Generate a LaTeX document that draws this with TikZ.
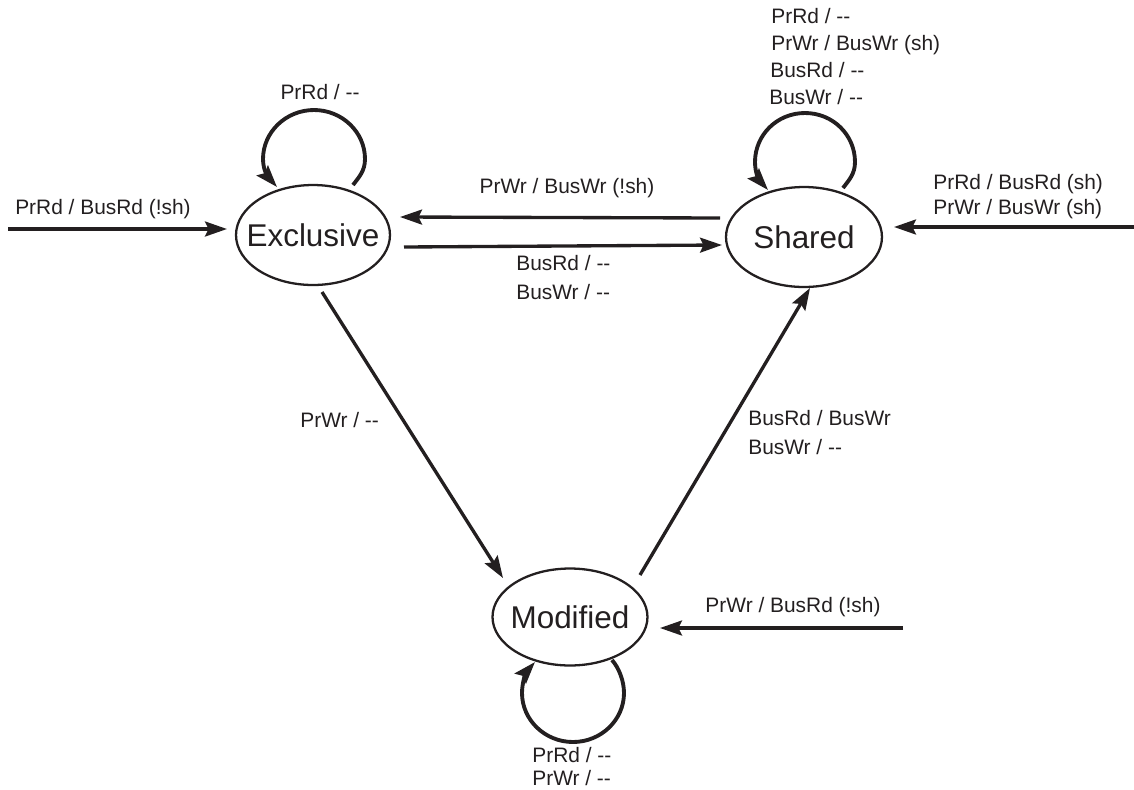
\documentclass[tikz,border=0pt]{standalone}
\usepackage{fontspec}
\setmainfont{Liberation Sans}
\usetikzlibrary{shapes.geometric,arrows.meta,calc}
\definecolor{ink}{HTML}{231F20}
\newcommand\twodash{-{}-}
\begin{document}
\begin{tikzpicture}[x=0.02cm,y=-0.02cm,
  state/.style={ellipse,draw=ink,line width=1.3pt,inner sep=0pt},
  statetext/.style={inner sep=0pt,text=ink,font=\fontsize{17.9pt}{20pt}\selectfont},
  lbl/.style={inner sep=0pt,text=ink,font=\fontsize{11.9pt}{14pt}\selectfont,text height=8.5pt,text depth=0pt},
  arr/.style={draw=ink,line width=1.9pt,-{Stealth[length=12.5pt,width=8.5pt,inset=2pt]}},
  loopy/.style={arr,line width=2.2pt}]
\useasboundingbox (0,0) rectangle (1134,789);

% states
\node[state, minimum width=3.08cm, minimum height=2cm, label={[statetext]center:Exclusive}] (ex) at (313,235) {};
\node[state, minimum width=3.12cm, minimum height=2cm, label={[statetext]center:Shared}] (sh) at (804,237) {};
\node[state, minimum width=3.1cm, minimum height=1.94cm, label={[statetext]center:Modified}] (mo) at (570,617) {};

% free ends
\coordinate (inL) at (8,229);
\coordinate (inR) at (1134,227);
\coordinate (inM) at (903,628);

% straight transitions
\draw[arr] (inL) -- ($(ex)+(-86,-6)$);
\draw[arr] (inR) -- ($(sh)+(90,-10)$);
\draw[arr] (inM) -- ($(mo)+(90,11)$);
\draw[arr] ($(sh)+(-84,-19)$) -- ($(ex)+(87,-18)$);
\draw[arr] ($(ex)+(91,12)$) -- ($(sh)+(-82,8)$);
\draw[arr] ($(ex)+(9,57)$) -- ($(mo)+(-67,-39)$);
\draw[arr] ($(mo)+(70,-42)$) -- ($(sh)+(6,51)$);

% self loops (coordinates relative to the state's centre)
\begin{scope}[shift={(ex)}]
  \draw[loopy] (40,-50) .. controls +(6,-8) and +(0,12) .. (52,-76)
    .. controls +(0,-27) and +(28,0) .. (1,-125)
    .. controls +(-28,0) and +(0,-27) .. (-50,-76)
    .. controls +(0,12) and +(-8,-9) .. (-36,-48);
\end{scope}
\begin{scope}[shift={(sh)}]
  \draw[loopy] (39,-49) .. controls +(6,-8) and +(0,12) .. (51,-75)
    .. controls +(0,-27) and +(28,0) .. (1,-124)
    .. controls +(-28,0) and +(0,-27) .. (-49,-75)
    .. controls +(0,12) and +(-8,-9) .. (-36,-47);
\end{scope}
\begin{scope}[shift={(mo)}]
  \draw[loopy] (42,43) .. controls +(7,8) and +(0,-12) .. (54,76)
    .. controls +(0,27) and +(28,0) .. (3,125)
    .. controls +(-28,0) and +(0,27) .. (-48,76)
    .. controls +(0,-12) and +(-8,9) .. (-35,45);
\end{scope}

% labels
\node[lbl] (tInL) at (103,207) {PrRd / BusRd (!sh)};
\node[lbl] (tExLoop) at (320,92) {PrRd / \twodash};
\node[lbl,anchor=west] (tSh1) at (771,16) {PrRd / \twodash};
\node[lbl,anchor=west] (tSh2) at (771,43) {PrWr / BusWr (sh)};
\node[lbl,anchor=west] (tSh3) at (770,70) {BusRd / \twodash};
\node[lbl,anchor=west] (tSh4) at (769,97) {BusWr / \twodash};
\node[lbl] (tShEx) at (567,186) {PrWr / BusWr (!sh)};
\node[lbl,anchor=west] (tExSh1) at (516,263) {BusRd / \twodash};
\node[lbl,anchor=west] (tExSh2) at (516,292) {BusWr / \twodash};
\node[lbl,anchor=west] (tInR1) at (933,182) {PrRd / BusRd (sh)};
\node[lbl,anchor=west] (tInR2) at (933,207) {PrWr / BusWr (sh)};
\node[lbl,anchor=west] (tExMo) at (300,420) {PrWr / \twodash};
\node[lbl,anchor=west] (tMoSh1) at (748,418) {BusRd / BusWr};
\node[lbl,anchor=west] (tMoSh2) at (748,447) {BusWr / \twodash};
\node[lbl] (tInM) at (793,605) {PrWr / BusRd (!sh)};
\node[lbl,anchor=west] (tMo1) at (532,755) {PrRd / \twodash};
\node[lbl,anchor=west] (tMo2) at (532,778) {PrWr / \twodash};
\end{tikzpicture}
\end{document}
